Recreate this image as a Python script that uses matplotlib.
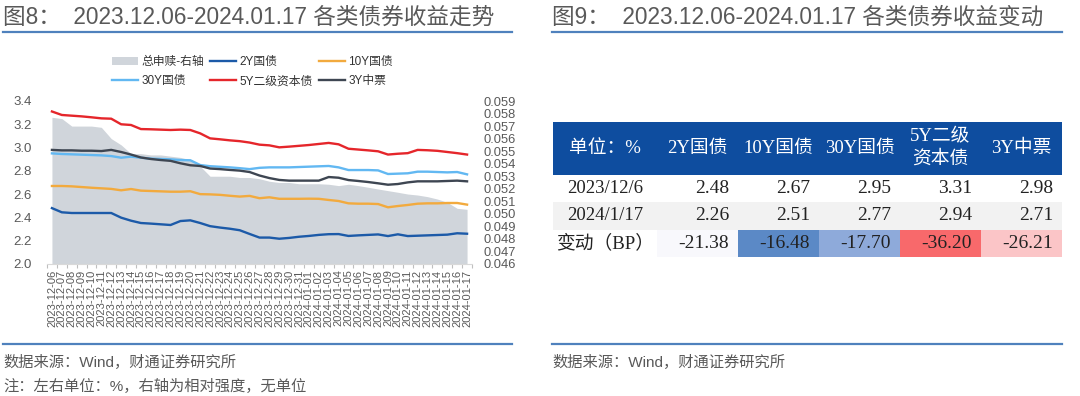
import matplotlib
matplotlib.use("Agg")
import matplotlib.pyplot as plt
from matplotlib.patches import Rectangle, Patch
from matplotlib.lines import Line2D
from matplotlib.ticker import FormatStrFormatter
import numpy as np
import pandas as pd

plt.rcParams['font.family'] = ['Liberation Sans', 'Noto Sans CJK SC']
SERIF = ['Liberation Serif', 'Noto Sans CJK SC']

# ---- datos del grafico 8 ----
fechas = pd.date_range('2023-12-06', '2024-01-17').strftime('%Y-%m-%d').tolist()

flujo = [0.0577, 0.0576, 0.0570, 0.0570, 0.0570, 0.0569, 0.0560, 0.0555, 0.0548, 0.0548,
         0.0547, 0.0547, 0.0546, 0.0545, 0.0543, 0.0538, 0.0530, 0.0530, 0.0530, 0.0529,
         0.0529, 0.0528, 0.0526, 0.0525, 0.0525, 0.0524, 0.0524, 0.0524, 0.05236, 0.05225,
         0.05236, 0.05225, 0.05212, 0.05198, 0.05185, 0.05172, 0.05158, 0.0515, 0.05137, 0.05118,
         0.05092, 0.05044, 0.05036]

gov2y = [2.48, 2.444, 2.438, 2.438, 2.438, 2.438, 2.438, 2.398, 2.372, 2.352,
         2.347, 2.341, 2.335, 2.369, 2.375, 2.352, 2.325, 2.313, 2.303, 2.29,
         2.258, 2.227, 2.227, 2.217, 2.224, 2.234, 2.241, 2.25, 2.256, 2.257,
         2.241, 2.246, 2.25, 2.254, 2.24, 2.255, 2.24, 2.243, 2.246, 2.249,
         2.252, 2.264, 2.26]

gov10y = [2.67, 2.670, 2.667, 2.661, 2.655, 2.650, 2.645, 2.633, 2.644, 2.630,
          2.627, 2.624, 2.621, 2.621, 2.625, 2.600, 2.598, 2.594, 2.586, 2.579,
          2.585, 2.565, 2.573, 2.560, 2.560, 2.560, 2.561, 2.560, 2.550, 2.541,
          2.521, 2.518, 2.518, 2.515, 2.487, 2.498, 2.507, 2.518, 2.521, 2.521,
          2.524, 2.524, 2.51]

gov30y = [2.95, 2.945, 2.942, 2.939, 2.936, 2.933, 2.927, 2.913, 2.922, 2.913,
          2.905, 2.902, 2.899, 2.893, 2.891, 2.850, 2.840, 2.835, 2.830, 2.823,
          2.815, 2.826, 2.830, 2.830, 2.830, 2.833, 2.836, 2.839, 2.842, 2.830,
          2.807, 2.807, 2.807, 2.804, 2.773, 2.776, 2.779, 2.793, 2.793, 2.790,
          2.787, 2.790, 2.77]

cap5y = [3.31, 3.28, 3.274, 3.268, 3.26, 3.251, 3.248, 3.20, 3.194, 3.159,
         3.157, 3.154, 3.151, 3.154, 3.151, 3.122, 3.079, 3.071, 3.062, 3.055,
         3.043, 3.025, 3.019, 3.002, 3.008, 3.015, 3.022, 3.031, 3.04, 3.028,
         2.99, 2.983, 2.976, 2.968, 2.94, 2.947, 2.952, 2.98, 2.977, 2.972,
         2.962, 2.952, 2.94]

mtn3y = [2.98, 2.976, 2.976, 2.973, 2.973, 2.970, 2.980, 2.962, 2.940, 2.915,
         2.902, 2.893, 2.886, 2.865, 2.848, 2.842, 2.820, 2.815, 2.808, 2.802,
         2.790, 2.760, 2.738, 2.722, 2.716, 2.716, 2.716, 2.716, 2.747, 2.741,
         2.721, 2.713, 2.704, 2.693, 2.681, 2.687, 2.701, 2.710, 2.710, 2.710,
         2.713, 2.716, 2.71]

series = [
    ('2Y国债', gov2y, '#1C5AA8'),
    ('10Y国债', gov10y, '#F2AA3E'),
    ('30Y国债', gov30y, '#62B8F2'),
    ('5Y二级资本债', cap5y, '#E5262B'),
    ('3Y中票', mtn3y, '#3E4652'),
]

# ---- datos de la tabla 9 ----
cabecera = ['单位：%', '2Y国债', '10Y国债', '30Y国债', '5Y二级\n资本债', '3Y中票']
filas = ['2023/12/6', '2024/1/17', '变动（BP）']
inicio = [2.48, 2.67, 2.95, 3.31, 2.98]
final = [2.26, 2.51, 2.77, 2.94, 2.71]
cambio_bp = [-21.38, -16.48, -17.70, -36.20, -26.21]
colores_cambio = ['#F8F8FC', '#5B89C6', '#8EAADA', '#F8696B', '#FBC5C7']

GRIS = '#595959'
AZUL_LINEA = '#4F81BD'

fig = plt.figure(figsize=(10.8, 3.96), dpi=100)
W, H = 1080, 396


def fx(px):
    return px / W


def fy(py):
    return 1 - py / H


# titulos, lineas y notas
fig.text(fx(3), fy(17), '图8：  2023.12.06-2024.01.17 各类债券收益走势',
         fontsize=16.3, color=GRIS, va='center')
fig.text(fx(552), fy(17), '图9：  2023.12.06-2024.01.17 各类债券收益变动',
         fontsize=16.3, color=GRIS, va='center')
for x0, x1 in [(3, 512), (552, 1062)]:
    fig.add_artist(Line2D([fx(x0), fx(x1)], [fy(32), fy(32)], color=AZUL_LINEA, lw=1.6))
    fig.add_artist(Line2D([fx(x0), fx(x1)], [fy(344), fy(344)], color=AZUL_LINEA, lw=1.6))
fig.text(fx(3), fy(362), '数据来源：Wind，财通证券研究所', fontsize=11, color=GRIS, va='center')
fig.text(fx(3), fy(386), '注：左右单位：%，右轴为相对强度，无单位', fontsize=11, color=GRIS, va='center')
fig.text(fx(552), fy(362), '数据来源：Wind，财通证券研究所', fontsize=11, color=GRIS, va='center')

# ---- grafico de lineas ----
ax = fig.add_axes([fx(47), fy(264), fx(472) - fx(47), fy(101) - fy(264)])
ax2 = ax.twinx()
x = np.arange(len(fechas))

ax2.fill_between(x, 0.046, flujo, color='#D0D5DB', lw=0)
ax2.set_ylim(0.046, 0.059)
ax2.set_yticks(np.arange(0.046, 0.0595, 0.001))
ax2.yaxis.set_major_formatter(FormatStrFormatter('%.3f'))

ax.set_zorder(ax2.get_zorder() + 1)
ax.patch.set_visible(False)
for nombre, vals, color in series:
    ax.plot(x, vals, color=color, lw=1.7, label=nombre)

ax.set_ylim(2.0, 3.4)
ax.set_yticks(np.arange(2.0, 3.41, 0.2))
ax.yaxis.set_major_formatter(FormatStrFormatter('%.1f'))
ax.set_xlim(-0.5, len(fechas) - 0.5)
ax.set_xticks(x)
ax.set_xticklabels(fechas, rotation=90, fontsize=8, color=GRIS)
ax.set_xticks(np.arange(-0.5, len(fechas), 1), minor=True)
ax.tick_params(axis='x', which='major', length=0, pad=4)
ax.tick_params(axis='x', which='minor', length=3, color='#BFBFBF', width=0.8)
ax.tick_params(axis='y', length=0, pad=11, labelsize=9.5, labelcolor=GRIS)
ax2.tick_params(axis='y', length=0, pad=8, labelsize=9.3, labelcolor=GRIS)

for a in (ax, ax2):
    for s in ('top', 'left', 'right'):
        a.spines[s].set_visible(False)
ax2.spines['bottom'].set_visible(False)
ax.spines['bottom'].set_color('#D9D9D9')

h = {nombre: Line2D([], [], color=color, lw=1.7) for nombre, _, color in series}
manejadores = [Patch(color='#D0D5DB', lw=0), h['30Y国债'], h['2Y国债'], h['5Y二级资本债'],
               h['10Y国债'], h['3Y中票']]
etiquetas = ['总申赎-右轴', '30Y国债', '2Y国债', '5Y二级资本债', '10Y国债', '3Y中票']
fig.legend(manejadores, etiquetas, ncol=3, loc='upper left',
           bbox_to_anchor=(fx(104), fy(48)), frameon=False, fontsize=8.5,
           handlelength=2.2, handletextpad=0.3, columnspacing=0.5, labelspacing=0.6,
           labelcolor='#333333', borderpad=0.2)

# ---- tabla ----
anchos = [104, 81, 81, 81, 81, 81]
altos = [53, 27.5, 27.5, 27.5]
bordes = np.concatenate([[0], np.cumsum(anchos)])
tops = np.concatenate([[0], np.cumsum(altos)])

tax = fig.add_axes([fx(553), fy(257), fx(553 + sum(anchos)) - fx(553), fy(121.5) - fy(257)])
tax.set_xlim(0, bordes[-1])
tax.set_ylim(tops[-1], 0)
tax.axis('off')

tax.add_patch(Rectangle((0, tops[0]), bordes[-1], altos[0], color='#0E4D9F', lw=0))
for c, txt in enumerate(cabecera):
    tax.text((bordes[c] + bordes[c + 1]) / 2, altos[0] / 2, txt, ha='center', va='center',
             color='white', fontsize=13.5, family=SERIF, linespacing=1.35)

tax.add_patch(Rectangle((0, tops[2]), bordes[-1], altos[2], color='#F2F2F2', lw=0))
for c, col in enumerate(colores_cambio):
    tax.add_patch(Rectangle((bordes[c + 1], tops[3]), anchos[c + 1], altos[3], color=col, lw=0))

for r, (etq, vals) in enumerate(zip(filas, [inicio, final, cambio_bp])):
    yc = (tops[r + 1] + tops[r + 2]) / 2
    tax.text(bordes[1] / 2, yc, etq, ha='center', va='center', fontsize=13.5,
             family=SERIF, color='#222222')
    for c, v in enumerate(vals):
        tax.text(bordes[c + 2] - 9, yc, f'{v:.2f}', ha='right', va='center',
                 fontsize=14, family=SERIF, color='#222222')

fig.savefig('out.png', dpi=100)
